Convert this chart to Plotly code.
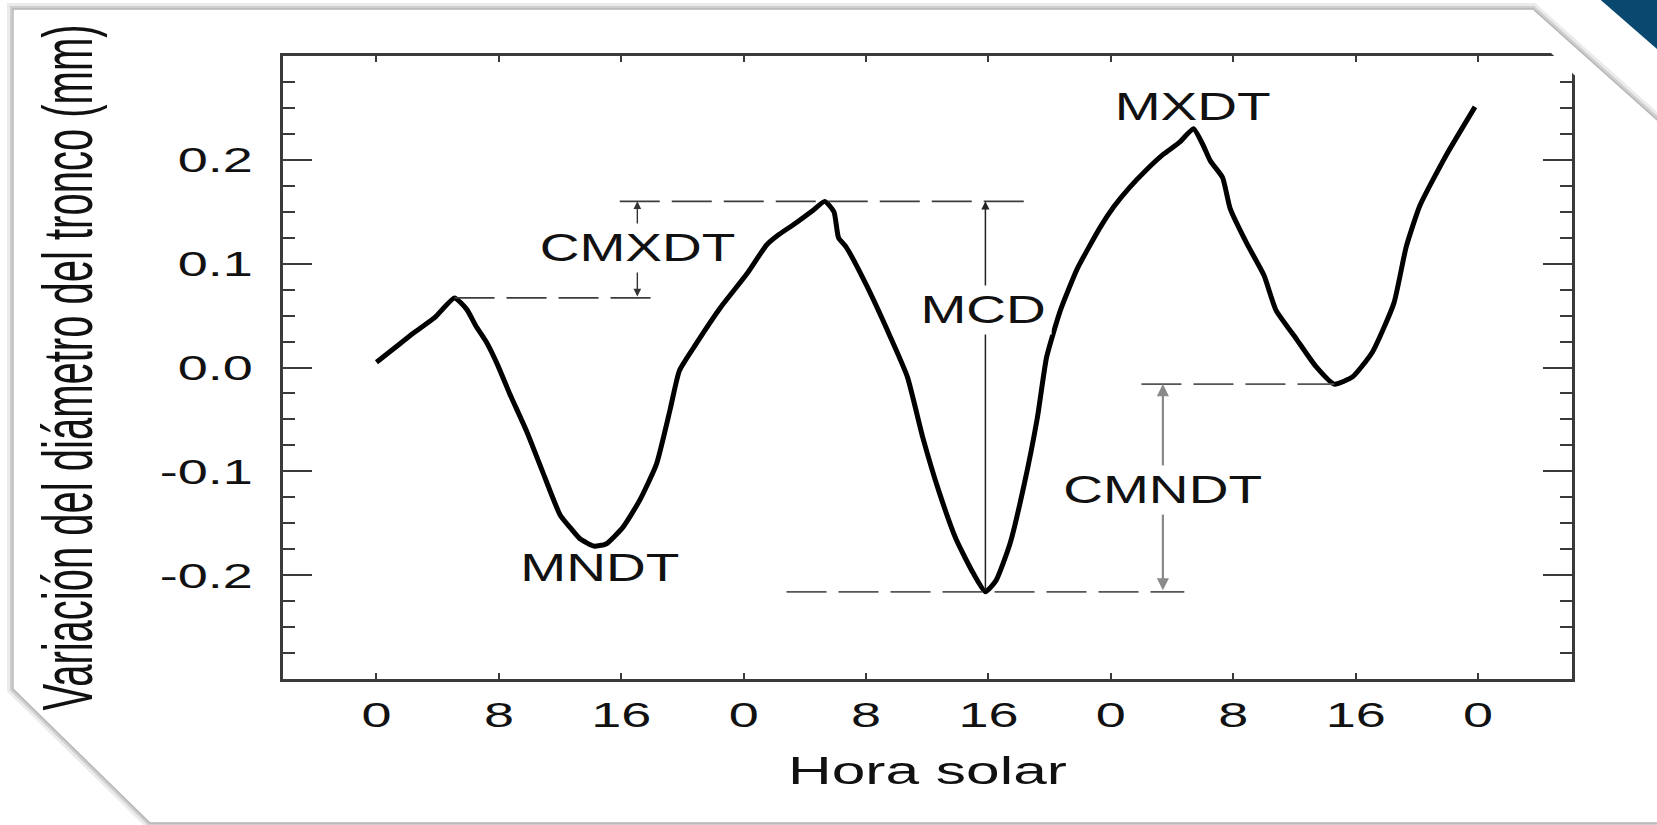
import numpy as np
import plotly.graph_objects as go

# ---------------- data ----------------
hours = [0, 1.2, 2.4, 3.8, 5.1, 5.9, 6.5, 7.2, 7.9, 8.7, 9.8, 10.9, 12.0, 12.65,
         13.3, 14.2, 15.0, 16.1, 17.2, 18.3, 19.2, 19.8, 20.9, 22.5, 24.2, 25.5,
         26.3, 27.2, 28.5, 29.3, 29.9, 30.2, 30.7, 32.0, 33.6, 34.7, 35.7, 36.8,
         37.9, 39.0, 39.8, 40.5, 41.4, 42.3, 43.2, 43.8, 44.7, 45.8, 47.3, 48.2,
         49.2, 50.3, 51.4, 52.5, 53.4, 54.0, 54.5, 55.3, 55.8, 56.9, 58.0, 58.8,
         60.1, 61.4, 62.6, 63.8, 65.1, 66.5, 67.3, 68.2, 69.9, 71.8]
diam_var = [0.005, 0.019, 0.033, 0.048, 0.067, 0.056, 0.040, 0.024, 0.003, -0.025,
            -0.061, -0.102, -0.142, -0.154, -0.165, -0.172, -0.170, -0.154, -0.128,
            -0.093, -0.040, -0.003, 0.023, 0.058, 0.090, 0.118, 0.128, 0.137, 0.151,
            0.160, 0.150, 0.125, 0.116, 0.080, 0.029, -0.009, -0.067, -0.121, -0.166,
            -0.198, -0.216, -0.205, -0.170, -0.115, -0.048, 0.010, 0.055, 0.095,
            0.135, 0.155, 0.173, 0.190, 0.205, 0.217, 0.230, 0.215, 0.199, 0.183,
            0.153, 0.119, 0.089, 0.055, 0.028, 0.001, -0.016, -0.009, 0.015, 0.062,
            0.116, 0.156, 0.204, 0.251]

x_tickvals = [0, 8, 16, 24, 32, 40, 48, 56, 64, 72]
x_ticktext = ["0", "8", "16", "0", "8", "16", "0", "8", "16", "0"]
day_ticks = [0, 24, 48, 72]
y_tickvals = [-0.2, -0.1, 0.0, 0.1, 0.2]
y_ticktext = ["-0.2", "-0.1", "0.0", "0.1", "0.2"]

labels = ["CMXDT", "MNDT", "MCD", "MXDT", "CMNDT"]
label_x = [17.04, 14.6, 39.7, 53.4, 51.4]
label_y = [0.115, -0.193, 0.055, 0.251, -0.118]
label_bg = [True, False, True, False, True]

# x-extent of the reference (dashed) lines and x of the arrows
cmxdt_low_end = 18.2
top_line_x = [15.9, 42.4]
bottom_line_x = [26.8, 52.8]
cmndt_top_start = 50.0
arrow_x = {"CMXDT": 17.05, "MCD": 39.8, "CMNDT": 51.4}

# ---------------- derived extrema ----------------
h = np.array(hours)
v = np.array(diam_var)
def ext(lo, hi, fn):
    m = (h >= lo) & (h < hi)
    i = np.where(m)[0][fn(v[m])]
    return h[i], v[i]
p1x, p1y = ext(0, 10, np.argmax)     # first max
p2x, p2y = ext(24, 34, np.argmax)    # second max
m2x, m2y = ext(34, 46, np.argmin)    # second min
m3x, m3y = ext(58, 70, np.argmin)    # third min

# ---------------- layout geometry ----------------
W, H = 1657, 825
L, R, T, B = 283, 85, 56, 146
PW, PH = W - L - R, H - T - B
def PX(px): return (px - L) / PW
def PY(py): return (H - B - py) / PH

AX = "#3a3a3a"
TXT = "#111111"
FONT = "Liberation Sans, Arial, Helvetica, sans-serif"

fig = go.Figure()
fig.add_trace(go.Scatter(x=hours, y=diam_var, mode="lines",
                         line=dict(color="black", width=5, shape="spline", smoothing=0.5),
                         showlegend=False, hoverinfo="skip"))

shapes = []
dash = "40px,12px"
def dline(x0, x1, y, color="#3c3c3c", w=1.8):
    shapes.append(dict(type="line", xref="x", yref="y", x0=x0, x1=x1, y0=y, y1=y,
                       line=dict(color=color, width=w, dash=dash), layer="above"))
dline(p1x, cmxdt_low_end, p1y)
dline(top_line_x[0], top_line_x[1], p2y)
dline(bottom_line_x[0], bottom_line_x[1], m2y, color="#555")
dline(cmndt_top_start, m3x, m3y, color="#555")

# decorative frame (shadow + border), blue corner, clipped plot corner
def path(pts, close=True):
    s = "M " + " L ".join(f"{PX(a):.5f},{PY(b):.5f}" for a, b in pts)
    return s + (" Z" if close else "")
frame = [(13, 9), (1533, 9), (1665, 127), (1665, 823), (150, 823), (13, 689)]
shapes.append(dict(type="path", xref="paper", yref="paper", path=path(frame),
                   line=dict(color="rgba(0,0,0,0.08)", width=12), layer="below"))
shapes.append(dict(type="path", xref="paper", yref="paper", path=path(frame),
                   line=dict(color="rgba(0,0,0,0.12)", width=6), layer="below"))
shapes.append(dict(type="path", xref="paper", yref="paper", path=path(frame),
                   fillcolor="white", line=dict(color="#b4b4b4", width=1.3), layer="below"))
shapes.append(dict(type="path", xref="paper", yref="paper",
                   path=path([(1595, -5), (1665, -5), (1665, 56)]),
                   fillcolor="#0b4870", line=dict(width=0), layer="above"))
shapes.append(dict(type="path", xref="paper", yref="paper",
                   path=path([(1551, 53), (1576, 53), (1576, 76.5)]),
                   fillcolor="white", line=dict(width=0), layer="above"))

annotations = []
def arrow(x, y0, y1, color, w, side="end+start"):
    annotations.append(dict(x=x, y=y1, ax=x, ay=y0, xref="x", yref="y", axref="x", ayref="y",
                            text="", showarrow=True, arrowhead=2, startarrowhead=2,
                            arrowsize=1.1, startarrowsize=1.1, arrowwidth=w,
                            arrowcolor=color, arrowside=side, standoff=0, startstandoff=0))
arrow(arrow_x["CMXDT"], p1y, p2y, "#333", 1.4)
arrow(arrow_x["MCD"], m2y, p2y, "#222", 1.5, side="end")
arrow(arrow_x["CMNDT"], m2y, m3y, "#8a8a8a", 2.2)

for t, x, y, bg in zip(labels, label_x, label_y, label_bg):
    annotations.append(dict(x=x, y=y, xref="x", yref="y", text=t, showarrow=False,
                            font=dict(family=FONT, size=38, color=TXT),
                            bgcolor="white" if bg else "rgba(0,0,0,0)", borderpad=3,
                            xanchor="center", yanchor="middle"))

fig.update_layout(
    width=W, height=H,
    margin=dict(l=L, r=R, t=T, b=B, autoexpand=False),
    paper_bgcolor="white", plot_bgcolor="white",
    showlegend=False,
    shapes=shapes, annotations=annotations,
    xaxis=dict(range=[-6.11, 78.14], tickvals=x_tickvals, ticktext=x_ticktext,
               ticks="inside", ticklen=6, tickwidth=2, tickcolor=AX,
               showline=True, linecolor=AX, linewidth=2.5, mirror="ticks",
               showgrid=False, zeroline=False, ticklabelstandoff=2,
               tickfont=dict(family=FONT, size=36, color=TXT),
               title=dict(text="Hora solar", standoff=23,
                          font=dict(family=FONT, size=39, color=TXT))),
    xaxis2=dict(range=[-6.11, 78.14], overlaying="x", anchor="y", side="bottom",
                tickvals=day_ticks, ticks="inside", ticklen=17, tickwidth=2.2,
                tickcolor=AX, showticklabels=False, showline=False, mirror="ticks",
                showgrid=False, zeroline=False),
    yaxis=dict(range=[-0.3, 0.3], tickvals=y_tickvals, ticktext=y_ticktext,
               ticks="inside", ticklen=29, tickwidth=2.2, tickcolor=AX,
               minor=dict(dtick=0.025, tick0=0, ticks="inside", ticklen=12,
                          tickwidth=2.2, tickcolor=AX, showgrid=False),
               showline=True, linecolor=AX, linewidth=3, mirror="ticks",
               showgrid=False, zeroline=False, ticklabelstandoff=20,
               tickfont=dict(family=FONT, size=36, color=TXT),
               title=dict(text="Variación del diámetro del tronco (mm)", standoff=97,
                          font=dict(family=FONT, size=40, color=TXT))),
)

# The source picture is stretched horizontally; widen the texts the same way.
post = """
document.body.style.margin = '0';
document.body.style.padding = '0';
var gd = document.getElementById('{plot_id}');
function stretch(el, s, mode) {
  var b;
  try { b = el.getBBox(); } catch (e) { return; }
  if (!b || (!b.width && !b.height)) { return; }
  var t = el.getAttribute('transform') || '';
  if (mode === 'y') {
    var cy = b.y + b.height / 2;
    el.setAttribute('transform', t + ' translate(0,' + cy + ') scale(1,' + s + ') translate(0,' + (-cy) + ')');
  } else {
    var cx = (mode === 'r') ? b.x + b.width : b.x + b.width / 2;
    el.setAttribute('transform', t + ' translate(' + cx + ',0) scale(' + s + ',1) translate(' + (-cx) + ',0)');
  }
}
gd.querySelectorAll('g.xtick text').forEach(function (e) { stretch(e, 1.5, 'c'); });
gd.querySelectorAll('g.ytick text').forEach(function (e) { stretch(e, 1.5, 'r'); });
gd.querySelectorAll('text.xtitle').forEach(function (e) { stretch(e, 1.55, 'c'); });
gd.querySelectorAll('text.ytitle').forEach(function (e) { stretch(e, 1.75, 'y'); });
gd.querySelectorAll('g.annotation-text-g').forEach(function (e) { stretch(e, 1.45, 'c'); });
"""

fig.write_html("out.html", include_plotlyjs=True, config={"displayModeBar": False},
               post_script=post)
